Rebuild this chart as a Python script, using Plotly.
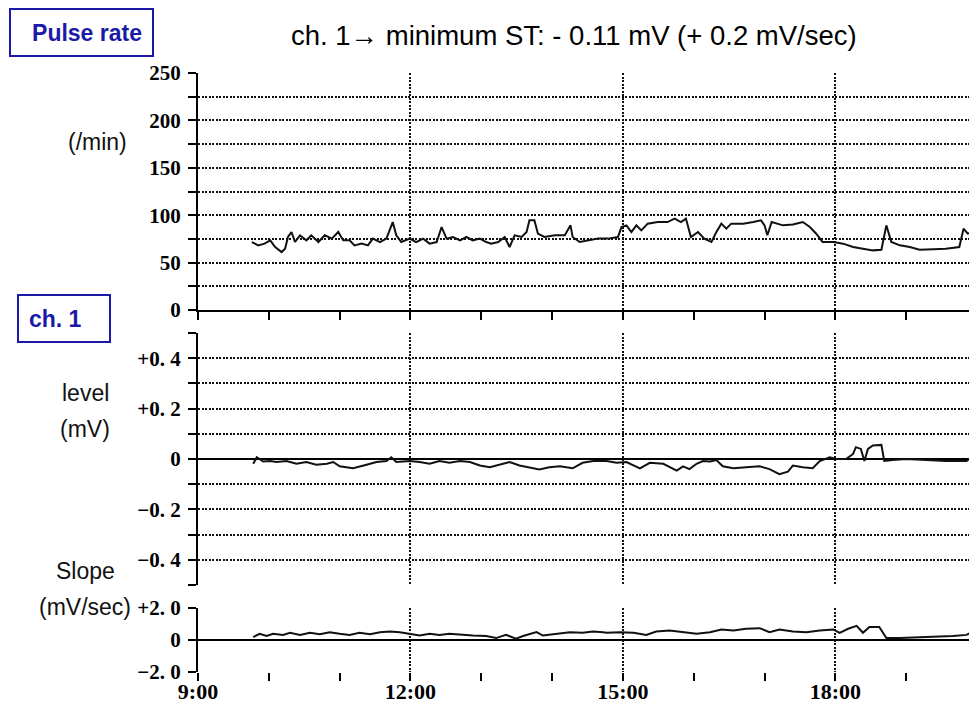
import plotly.graph_objects as go

# ---------------- data ----------------
pulse_time = [9.76, 9.85, 9.94, 10.02, 10.09, 10.18, 10.23, 10.27, 10.32, 10.37, 10.44, 10.53,
              10.60, 10.70, 10.79, 10.89, 10.98, 11.05, 11.14, 11.21, 11.31, 11.40, 11.47, 11.57,
              11.66, 11.75, 11.80, 11.87, 11.99, 12.08, 12.18, 12.27, 12.37, 12.44, 12.51, 12.60,
              12.70, 12.79, 12.88, 12.98, 13.07, 13.14, 13.24, 13.33, 13.40, 13.47, 13.57, 13.64,
              13.68, 13.75, 13.80, 13.89, 14.04, 14.18, 14.26, 14.29, 14.39, 14.50, 14.65, 14.79,
              14.93, 14.98, 15.05, 15.12, 15.19, 15.26, 15.35, 15.49, 15.63, 15.73, 15.82, 15.89,
              15.96, 16.06, 16.15, 16.25, 16.32, 16.39, 16.46, 16.53, 16.70, 16.84, 16.95, 17.00,
              17.04, 17.10, 17.26, 17.40, 17.54, 17.64, 17.73, 17.82, 17.97, 18.11, 18.25, 18.39,
              18.53, 18.65, 18.72, 18.79, 18.91, 19.05, 19.19, 19.38, 19.56, 19.75, 19.81, 19.87,
              19.94, 19.98]
pulse_rate = [71.7, 68.2, 70.0, 73.5, 66.4, 61.1, 64.7, 77.0, 82.3, 71.7, 78.8, 73.5,
              78.8, 71.7, 78.8, 75.3, 82.3, 73.5, 73.5, 68.2, 70.0, 68.2, 75.3, 71.7,
              75.3, 92.8, 78.8, 71.7, 75.3, 71.7, 75.3, 70.0, 71.7, 87.5, 75.3, 77.0,
              73.5, 77.0, 73.5, 75.3, 71.7, 70.0, 71.7, 77.0, 66.4, 78.8, 77.0, 82.3,
              94.6, 94.6, 80.5, 77.0, 78.8, 78.8, 89.3, 77.0, 71.7, 73.5, 75.3, 75.3,
              77.0, 87.5, 89.3, 82.3, 89.3, 84.0, 91.1, 92.8, 92.8, 96.4, 92.8, 96.4,
              77.0, 82.3, 75.3, 71.7, 82.3, 91.1, 85.8, 91.1, 91.1, 92.8, 94.6, 89.3,
              78.8, 92.8, 89.3, 90.3, 92.8, 87.5, 80.5, 71.7, 71.7, 70.0, 66.4, 64.7,
              62.9, 63.5, 89.3, 71.7, 68.2, 66.4, 63.5, 64.0, 64.7, 66.4, 85.8, 80.5,
              82.3, 78.8]

level_time = [9.78, 9.83, 9.92, 10.02, 10.11, 10.25, 10.39, 10.53, 10.67, 10.82, 10.91, 11.00,
              11.19, 11.28, 11.38, 11.52, 11.66, 11.73, 11.80, 11.99, 12.13, 12.27, 12.41, 12.55,
              12.70, 12.84, 12.98, 13.12, 13.26, 13.40, 13.54, 13.68, 13.82, 13.96, 14.11, 14.29,
              14.43, 14.58, 14.72, 14.77, 14.91, 15.05, 15.24, 15.38, 15.57, 15.76, 15.85, 15.94,
              16.04, 16.13, 16.23, 16.32, 16.41, 16.56, 16.74, 16.93, 17.07, 17.21, 17.33, 17.40,
              17.54, 17.68, 17.78, 17.92, 18.01, 18.15, 18.25, 18.29, 18.36, 18.41, 18.46, 18.53,
              18.65, 18.69, 18.81, 19.00, 19.28, 19.56, 19.85, 19.94, 19.99]
st_level = [-0.019, 0.007, -0.010, -0.008, -0.012, -0.008, -0.019, -0.012, -0.023, -0.019, -0.012, -0.029,
            -0.037, -0.029, -0.023, -0.012, -0.008, 0.007, -0.012, -0.008, -0.012, -0.019, -0.008, -0.015,
            -0.008, -0.012, -0.026, -0.033, -0.023, -0.012, -0.026, -0.033, -0.042, -0.033, -0.029, -0.037,
            -0.015, -0.008, -0.010, -0.008, -0.015, -0.012, -0.037, -0.015, -0.019, -0.046, -0.029, -0.040,
            -0.019, -0.008, -0.010, -0.004, -0.029, -0.037, -0.033, -0.029, -0.040, -0.060, -0.050, -0.026,
            -0.033, -0.037, -0.008, 0.007, 0.000, 0.000, 0.020, 0.047, 0.040, -0.008, 0.040, 0.054,
            0.056, -0.008, -0.004, 0.000, -0.004, -0.008, -0.008, 0.010, 0.010]

slope_time = [9.78, 9.87, 9.97, 10.06, 10.20, 10.30, 10.44, 10.58, 10.72, 10.86, 11.00, 11.14,
              11.28, 11.43, 11.57, 11.71, 11.85, 11.99, 12.13, 12.27, 12.41, 12.55, 12.70, 12.88,
              13.07, 13.21, 13.35, 13.49, 13.59, 13.78, 13.87, 14.06, 14.25, 14.43, 14.58, 14.72,
              14.77, 14.96, 15.15, 15.33, 15.47, 15.66, 15.85, 16.04, 16.23, 16.39, 16.56, 16.74,
              16.93, 17.07, 17.21, 17.40, 17.59, 17.78, 17.97, 18.06, 18.18, 18.30, 18.39, 18.48,
              18.62, 18.72, 18.91, 19.09, 19.28, 19.47, 19.66, 19.85, 19.94, 19.99]
st_slope = [0.18, 0.39, 0.25, 0.39, 0.32, 0.45, 0.32, 0.45, 0.36, 0.49, 0.39, 0.32,
            0.45, 0.36, 0.49, 0.53, 0.49, 0.39, 0.28, 0.39, 0.32, 0.39, 0.32, 0.28,
            0.25, 0.12, 0.32, 0.08, 0.25, 0.49, 0.28, 0.39, 0.49, 0.45, 0.53, 0.49,
            0.45, 0.49, 0.45, 0.32, 0.53, 0.60, 0.49, 0.39, 0.49, 0.66, 0.60, 0.70,
            0.74, 0.49, 0.66, 0.53, 0.49, 0.60, 0.66, 0.45, 0.70, 0.88, 0.45, 0.81,
            0.81, 0.12, 0.12, 0.15, 0.19, 0.18, 0.25, 0.32, 0.53, 0.60]

pulse_ticks = [0, 50, 100, 150, 200, 250]
pulse_labels = ["0", "50", "100", "150", "200", "250"]
level_ticks = [-0.4, -0.2, 0, 0.2, 0.4]
level_labels = ["\u22120. 4", "\u22120. 2", "0", "+0. 2", "+0. 4"]
slope_ticks = [-2, 0, 2]
slope_labels = ["\u22122. 0", "0", "+2. 0"]
hour_ticks = [9, 12, 15, 18]
hour_labels = ["9:00", "12:00", "15:00", "18:00"]

title_text = "ch. 1\u2192 minimum ST: - 0.11 mV (+ 0.2 mV/sec)"

# ---------------- layout helpers ----------------
# the page body has an 8px margin, so the figure starts 8px in from the window corner
OFF = 8
W, H = 977 - OFF, 706 - OFF


def px(x):
    return (x - OFF) / W


def py(y):
    return 1 - (y - OFF) / H


LINE = dict(color="#111111", width=2)
GRID = dict(gridcolor="#111111", gridwidth=1.6, griddash="2px,1.5px")
TICKFONT = dict(family="Liberation Serif", size=21, color="black", weight="bold")
XTICKFONT = dict(family="Liberation Serif", size=22, color="black", weight="bold")
TICKSTYLE = dict(ticks="outside", ticklen=8, tickwidth=1.6, tickcolor="black")
BLUE = "#1a1aa6"

fig = go.Figure()
fig.add_trace(go.Scatter(x=pulse_time, y=pulse_rate, mode="lines", line=LINE,
                         xaxis="x", yaxis="y", showlegend=False))
fig.add_trace(go.Scatter(x=level_time, y=st_level, mode="lines", line=LINE,
                         xaxis="x2", yaxis="y2", showlegend=False))
fig.add_trace(go.Scatter(x=slope_time, y=st_slope, mode="lines", line=LINE,
                         xaxis="x3", yaxis="y3", showlegend=False))

xdom = [px(198), 1.0]
xrange_ = [9, 20]

fig.update_layout(
    width=W, height=H,
    margin=dict(l=0, r=0, t=0, b=0),
    paper_bgcolor="white", plot_bgcolor="white",
    showlegend=False,
    xaxis=dict(domain=xdom, range=xrange_, anchor="y", tickmode="linear", tick0=9, dtick=3,
               showgrid=True, **GRID, showticklabels=False, **TICKSTYLE,
               showline=True, linecolor="black", linewidth=2, zeroline=False,
               minor=dict(tickmode="linear", tick0=9, dtick=1, showgrid=False, **TICKSTYLE),
               automargin=False),
    yaxis=dict(domain=[py(310), py(73)], range=[0, 250], anchor="x",
               tickmode="array", tickvals=pulse_ticks, ticktext=pulse_labels,
               showgrid=True, **GRID, **TICKSTYLE, tickfont=TICKFONT, ticklabelstandoff=3,
               showline=True, linecolor="black", linewidth=2, zeroline=False,
               minor=dict(tickmode="linear", tick0=0, dtick=25, showgrid=True, **GRID, **TICKSTYLE),
               automargin=False),
    xaxis2=dict(domain=xdom, range=xrange_, anchor="y2", tickmode="linear", tick0=9, dtick=3,
                showgrid=True, **GRID, showticklabels=False, ticks="",
                showline=False, zeroline=False, automargin=False),
    yaxis2=dict(domain=[py(585), py(333)], range=[-0.5, 0.5], anchor="x2",
                tickmode="array", tickvals=level_ticks, ticktext=level_labels,
                showgrid=True, **GRID, **TICKSTYLE, tickfont=TICKFONT, ticklabelstandoff=3,
                showline=True, linecolor="black", linewidth=2,
                zeroline=True, zerolinecolor="black", zerolinewidth=2,
                minor=dict(tickmode="linear", tick0=0, dtick=0.1, showgrid=True, **GRID, **TICKSTYLE),
                automargin=False),
    xaxis3=dict(domain=xdom, range=xrange_, anchor="y3", tickmode="array",
                tickvals=hour_ticks, ticktext=hour_labels,
                showgrid=True, **GRID, **TICKSTYLE, tickfont=XTICKFONT, ticklabelstandoff=-8,
                showline=False, zeroline=False,
                minor=dict(tickmode="linear", tick0=9, dtick=1, showgrid=False, **TICKSTYLE),
                automargin=False),
    yaxis3=dict(domain=[py(672), py(608)], range=[-2, 2], anchor="x3",
                tickmode="array", tickvals=slope_ticks, ticktext=slope_labels,
                showgrid=True, **GRID, **TICKSTYLE, tickfont=TICKFONT, ticklabelstandoff=3,
                showline=True, linecolor="black", linewidth=2,
                zeroline=True, zerolinecolor="black", zerolinewidth=2,
                automargin=False),
)

SANS = "Liberation Sans"
annos = [
    dict(text=title_text, x=px(574), y=py(35), xanchor="center", yanchor="middle",
         font=dict(family=SANS, size=27.5, color="black")),
    dict(text="(/min)", x=px(97), y=py(142), xanchor="center", yanchor="middle",
         font=dict(family=SANS, size=23, color="#111")),
    dict(text="level", x=px(85), y=py(393), xanchor="center", yanchor="middle",
         font=dict(family=SANS, size=23, color="#111")),
    dict(text="(mV)", x=px(85), y=py(429), xanchor="center", yanchor="middle",
         font=dict(family=SANS, size=23, color="#111")),
    dict(text="Slope", x=px(85), y=py(571), xanchor="center", yanchor="middle",
         font=dict(family=SANS, size=23, color="#111")),
    dict(text="(mV/sec)", x=px(85), y=py(607), xanchor="center", yanchor="middle",
         font=dict(family=SANS, size=23, color="#111")),
    dict(text="<b>Pulse rate</b>", x=px(9), y=py(8), xanchor="left", yanchor="top",
         width=121, height=25, align="right", valign="middle",
         bordercolor=BLUE, borderwidth=2, borderpad=10, bgcolor="white",
         font=dict(family=SANS, size=23, color=BLUE)),
    dict(text="<b>ch. 1</b>", x=px(17), y=py(294), xanchor="left", yanchor="top",
         width=70, height=25, align="left", valign="middle",
         bordercolor=BLUE, borderwidth=2, borderpad=10, bgcolor="white",
         font=dict(family=SANS, size=23, color=BLUE)),
]
for a in annos:
    a.update(xref="paper", yref="paper", showarrow=False)
fig.update_layout(annotations=annos)

fig.write_html("out.html")
